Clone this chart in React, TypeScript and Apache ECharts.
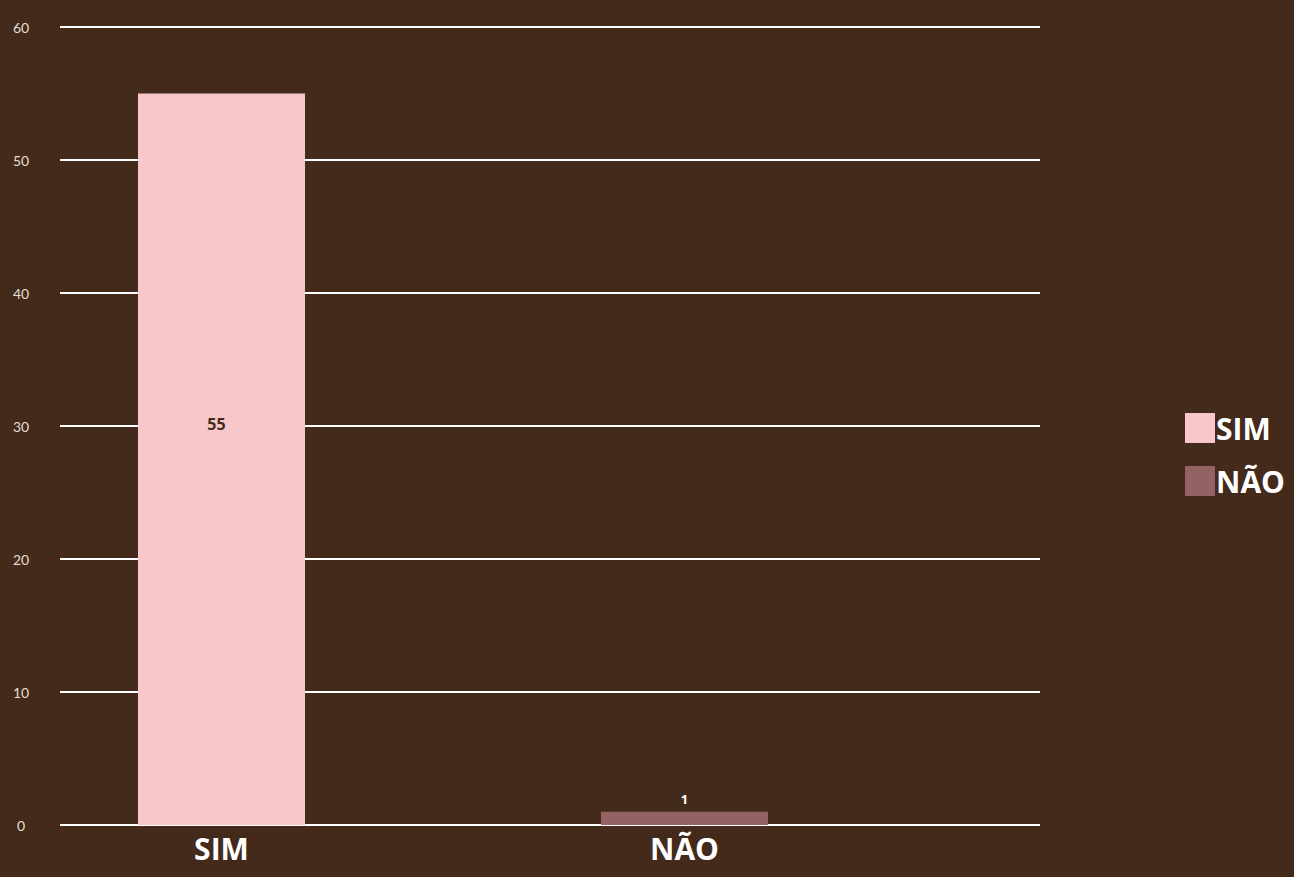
import React, { useEffect, useRef } from "react";
import * as echarts from "echarts";

const categories = ["SIM", "NÃO"];
const simValues = [55];
const naoValues = [1];
const yTicks = [0, 10, 20, 30, 40, 50, 60];

const BG = "#432a1b";

export default function App() {
  const ref = useRef<HTMLDivElement>(null);
  useEffect(() => {
    if (!ref.current) return;
    const chart = echarts.init(ref.current, null, { renderer: "svg" });
    chart.setOption({
      animation: false,
      backgroundColor: BG,
      textStyle: { fontFamily: "Open Sans" },
      grid: { left: 60, right: 254, top: 27, bottom: 52 },
      legend: {
        orient: "vertical",
        left: 1180,
        top: 408,
        itemWidth: 30,
        itemHeight: 30,
        itemGap: 23,
        icon: "rect",
        data: categories,
        textStyle: { color: "#ffffff", fontSize: 30, fontWeight: "bold", fontFamily: "Open Sans", padding: [0, 0, 0, -4] },
      },
      xAxis: {
        type: "value",
        min: -0.3488,
        max: 1.7678,
        splitLine: { show: false },
        axisLine: { show: false },
        axisTick: { show: false },
        axisLabel: {
          customValues: [0, 1],
          formatter: (v: number) => categories[Math.round(v)] ?? "",
          color: "#ffffff",
          fontSize: 30,
          fontWeight: "bold",
          fontFamily: "Open Sans",
          margin: 8,
        },
      },
      yAxis: {
        type: "value",
        min: yTicks[0],
        max: yTicks[yTicks.length - 1],
        interval: 10,
        axisLine: { show: false },
        axisTick: { show: false },
        splitLine: { lineStyle: { color: "#ffffff", width: 2 } },
        axisLabel: {
          color: "#e6ddd5",
          fontSize: 14,
          fontFamily: "Lato",
          align: "center",
          margin: 39,
          padding: [0, 0, 6, 0],
        },
      },
      series: [
        {
          name: categories[0],
          type: "bar",
          barWidth: 167,
          itemStyle: { color: "#f7c7c9" },
          data: simValues.map((v, i) => [i, v]),
          label: {
            show: true,
            position: "inside",
            offset: [-5, -35],
            color: "#432a1b",
            fontSize: 16,
            fontWeight: "bold",
            fontFamily: "Open Sans",
            formatter: (p: any) => String(p.value[1]),
          },
          z: 3,
        },
        {
          name: categories[1],
          type: "bar",
          barWidth: 167,
          barGap: "-100%",
          itemStyle: { color: "#936262" },
          data: naoValues.map((v, i) => [i + 1, v]),
          label: {
            show: true,
            position: "top",
            distance: 6,
            color: "#ffffff",
            fontSize: 13,
            fontWeight: "bold",
            fontFamily: "Open Sans",
            formatter: (p: any) => String(p.value[1]),
          },
          z: 3,
        },
      ],
    });
    return () => chart.dispose();
  }, []);
  return <div ref={ref} style={{ width: 1294, height: 877, position: "fixed", left: 0, top: 0 }} />;
}
